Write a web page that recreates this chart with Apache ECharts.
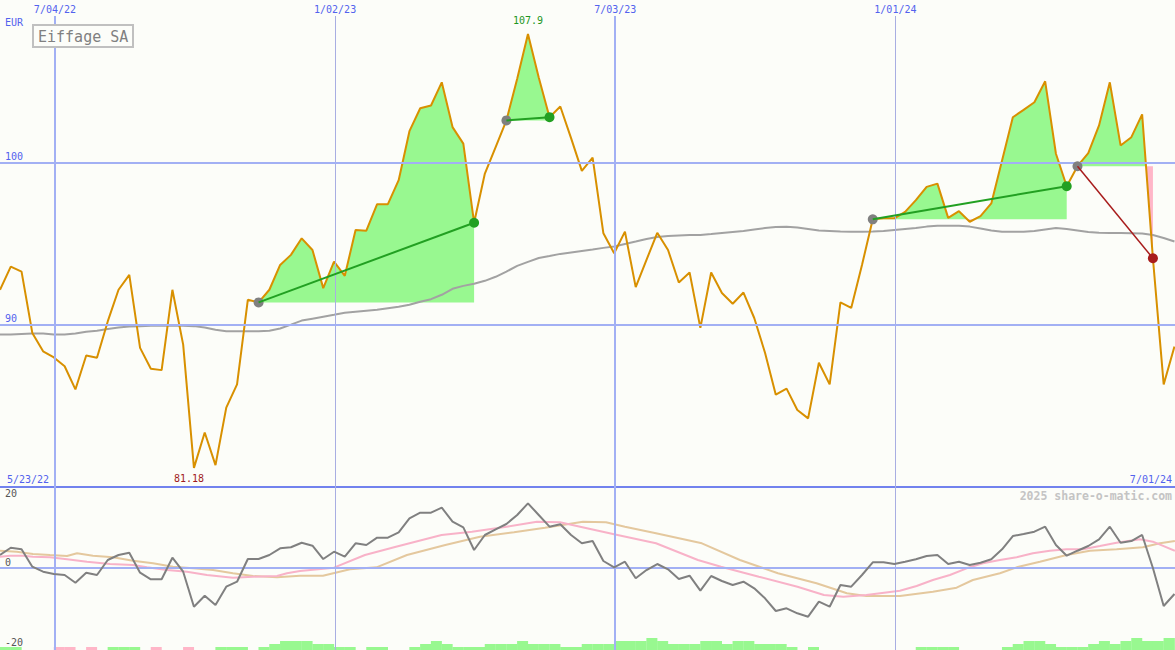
<!DOCTYPE html>
<html><head><meta charset="utf-8">
<script src="https://cdn.jsdelivr.net/npm/echarts@6/dist/echarts.min.js"></script>
<style>html,body{margin:0;padding:0;background:#fcfdf9;}#c{width:1175px;height:650px;}</style>
</head><body><div id="c"></div>
<script>
// ---------- data (weekly, index 0 = first week on the chart) ----------
const chartTitle = 'Eiffage SA';
const currency = 'EUR';
const startDate = '5/23/22';
const endDate = '7/01/24';
const watermark = '2025 share-o-matic.com';
const dateTicks = ['7/04/22', '1/02/23', '7/03/23', '1/01/24'];
const dateTickWeek = [5.1, 31.1, 57.1, 83.1];
const priceTicks = [90, 100];
const oscTicks = [20, 0, -20];

const price = [92.15,93.58,93.27,89.49,88.36,87.98,87.44,86.01,88.10,87.96,
 90.20,92.15,93.07,88.57,87.28,87.20,92.15,88.77,81.18,83.36,
 81.35,84.89,86.32,91.53,91.37,92.15,93.68,94.30,95.32,94.60,
 92.25,93.88,93.01,95.83,95.79,97.42,97.42,98.90,101.92,103.33,
 103.50,104.93,102.17,101.15,96.28,99.31,100.94,102.58,105.15,107.9,
 105.22,102.78,103.44,101.49,99.47,100.29,95.63,94.40,95.73,92.31,
 93.99,95.66,94.60,92.60,93.21,89.80,93.21,91.95,91.29,91.98,
 90.41,88.27,85.69,86.06,84.74,84.23,87.65,86.32,91.37,91.03,
 93.68,96.49,96.55,96.55,96.95,97.67,98.49,98.69,96.58,96.99,
 96.34,96.69,97.47,100.12,102.78,103.23,103.70,104.99,100.53,98.53,
 99.76,100.57,102.27,104.93,101.04,101.55,102.95,94.09,86.32,88.65];

const movingAvg = [89.39,89.39,89.42,89.45,89.45,89.39,89.39,89.45,89.57,89.63,
 89.73,89.82,89.88,89.91,89.94,89.94,89.94,89.94,89.91,89.82,
 89.69,89.60,89.60,89.60,89.60,89.63,89.76,90.00,90.25,90.37,
 90.49,90.61,90.74,90.80,90.86,90.92,91.01,91.10,91.23,91.41,
 91.57,91.84,92.21,92.39,92.52,92.70,92.95,93.27,93.62,93.87,
 94.11,94.23,94.36,94.45,94.54,94.63,94.73,94.82,94.97,95.12,
 95.28,95.40,95.46,95.49,95.52,95.52,95.58,95.65,95.71,95.77,
 95.86,95.95,96.01,96.03,95.98,95.89,95.80,95.77,95.74,95.72,
 95.72,95.74,95.77,95.83,95.89,95.95,96.04,96.09,96.09,96.09,
 96.04,95.92,95.80,95.72,95.72,95.72,95.77,95.86,95.95,95.89,
 95.80,95.71,95.66,95.65,95.65,95.63,95.61,95.52,95.34,95.12];

const momentum = [3.80,5.94,5.47,0.38,-1.08,-1.76,-2.05,-4.30,-1.38,-2.05,
 2.34,3.80,4.48,-1.38,-3.31,-3.31,3.01,-1.08,-11.33,-8.11,
 -10.83,-5.47,-4.01,2.63,2.63,3.80,5.77,6.06,7.40,6.53,
 2.63,4.77,3.31,7.23,6.73,8.87,8.87,10.45,14.54,16.18,
 16.18,17.65,13.55,11.91,5.27,9.66,11.33,12.88,15.51,18.93,
 15.51,12.09,12.79,9.66,7.23,7.90,2.05,0.20,1.84,-3.01,
 -0.59,1.17,-0.38,-3.22,-2.25,-6.64,-2.34,-3.80,-4.98,-4.01,
 -5.94,-8.87,-12.58,-11.79,-13.26,-14.25,-9.86,-11.33,-4.98,-5.47,
 -2.05,1.67,1.67,1.17,1.84,2.55,3.51,3.80,1.17,1.84,
 0.88,1.55,2.55,5.47,9.36,9.95,10.62,12.09,6.73,3.60,
 5.06,6.44,8.40,12.09,7.40,7.90,9.66,0.00,-11.12,-7.61];

// smooth averages, sampled [week, value]
const pinkAvg = [[0,3.31],[0.93,3.60],[2.13,3.60],[3.06,3.31],[4.64,3.13],[6.22,2.55],[8.07,1.84],
 [10.21,1.17],[12.34,0.88],[13.64,0.20],[15.50,-0.59],[17.35,-1.08],[19.21,-2.05],[21.62,-2.84],
 [23.48,-2.55],[25.71,-2.34],[26.63,-1.55],[27.84,-0.88],[31.0,0.09],[33.87,3.80],[36.75,6.23],
 [40.98,9.66],[43.80,10.62],[47.02,12.09],[49.83,13.55],[51.97,13.37],[54.47,11.62],[57.31,9.66],
 [60.88,7.23],[64.77,2.34],[66.91,0.38],[70.43,-2.55],[74.01,-5.47],[76.47,-7.90],[78.27,-8.40],
 [80.40,-7.90],[83.52,-6.64],[85.07,-5.27],[86.58,-3.51],[88.16,-2.05],[89.71,-0.09],[91.22,1.38],
 [92.80,2.34],[94.35,3.13],[95.86,4.30],[97.44,5.06],[98.99,5.47],[100.50,5.47],[102.08,6.44],
 [103.63,7.40],[105.79,8.40],[107.0,7.70],[109.04,5.06]];
const tanAvg = [[0,5.06],[1.55,4.77],[3.06,4.10],[4.64,3.80],[6.22,3.51],[7.15,4.30],[8.63,3.60],
 [10.49,3.13],[12.34,2.14],[14.20,1.38],[16.05,0.38],[17.91,-0.09],[19.77,-0.59],[21.62,-1.55],
 [23.48,-2.34],[25.71,-2.72],[27.84,-2.25],[29.97,-2.25],[32.48,-0.38],[34.94,0.20],[37.77,3.80],
 [41.33,6.73],[44.54,9.16],[47.70,10.45],[50.58,11.79],[54.10,13.55],[56.24,13.37],[58.0,12.09],
 [60.88,10.16],[65.14,7.23],[68.67,2.34],[72.20,-1.55],[75.78,-4.48],[78.60,-7.40],[80.40,-8.19],
 [82.50,-8.19],[83.52,-8.19],[86.58,-6.94],[88.78,-5.77],[90.29,-3.51],[92.80,-1.55],[94.35,0.20],
 [96.51,1.84],[98.99,3.80],[101.15,5.06],[103.63,5.47],[106.07,6.06],[107.65,7.23],[109.04,7.90]];

// weekly flow bars: sign = colour, size = level
const flowBars = [1,1,0,0,0,-1,-1,0,-1,0,
 1,1,1,0,-1,0,0,-1,0,0,
 1,1,1,0,1,2,3,3,3,2,
 2,1,1,0,1,1,0,0,1,2,
 3,2,1,1,1,2,2,2,3,2,
 2,2,1,1,2,2,2,3,3,3,
 4,3,2,2,2,3,3,2,3,3,
 2,2,2,1,0,1,0,0,0,0,
 0,0,0,0,0,1,1,1,1,0,
 0,0,0,1,2,3,3,2,1,1,
 1,2,3,2,3,4,3,3,4,4];

// trade signals (week index of entry / exit)
const signalStart = [24, 47, 81, 100];
const signalEnd = [44, 51, 99, 107];

// ---------- styles ----------
const MONO = 'DejaVu Sans Mono';
const BLUE = '#5262ee';
const GRIDC = '#a2b0f4';
const FILL_G = '#98f890';
const FILL_P = '#ffb6c8';
const WIN = '#22a022', LOSS = '#a81c1c';

function renderFill(params, api) {
  const i = params.dataIndex;
  const s = signalStart[i], e = signalEnd[i], b = price[s];
  const runs = [];
  let cur = [[s, b]];
  for (let k = s; k <= e; k++) {
    if (k > s) {
      const d0 = price[k - 1] - b, d1 = price[k] - b;
      if (d0 * d1 < 0) {
        const xc = k - 1 + d0 / (d0 - d1);
        cur.push([xc, b]);
        runs.push(cur);
        cur = [[xc, b]];
      }
    }
    cur.push([k, price[k]]);
  }
  cur.push([e, b]);
  runs.push(cur);
  return {
    type: 'group',
    children: runs.map(r => {
      const sum = r.reduce((a, p) => a + (p[1] - b), 0);
      return {
        type: 'polygon',
        shape: { points: r.map(p => api.coord(p)) },
        style: { fill: sum >= 0 ? FILL_G : FILL_P, stroke: null, lineWidth: 0 }
      };
    })
  };
}

const win = signalStart.map((s, i) => price[signalEnd[i]] >= price[s]);
const txt = (size, color, extra) => Object.assign({ fontFamily: MONO, fontSize: size, color: color, fontWeight: 'normal', lineHeight: 12 }, extra || {});

const chart = echarts.init(document.getElementById('c'), null, { renderer: 'svg', width: 1175, height: 650 });
const XMAX = 109.05;

const option = {
  animation: false,
  backgroundColor: '#fcfdf9',
  title: [
    { text: chartTitle, left: 33, top: 25, padding: [3, 5, 2, 5], borderColor: '#c0c0c0', borderWidth: 2,
      backgroundColor: '#fcfdf9', textStyle: txt(15, '#808080', { lineHeight: 17 }), z: 20 },
    { text: currency, left: 5, top: 16, padding: 0, textStyle: txt(10, BLUE) },
    { text: startDate, left: 7, top: 473, padding: 0, textStyle: txt(10, BLUE) },
    { text: endDate, right: 3, top: 473, padding: 0, textStyle: txt(10, BLUE) },
    { text: watermark, right: 3, top: 490, padding: 0, textStyle: txt(11.5, '#c4c4c4', { fontWeight: 'bold' }) }
  ],
  grid: [
    { left: 0, right: 0, top: 0, height: 487 },
    { left: 0, right: 0, top: 486, height: 164 },
    { left: 0, right: 0, top: 16, bottom: 0 }
  ],
  xAxis: [
    { gridIndex: 0, type: 'value', min: 0, max: XMAX, axisLabel: { show: false }, axisTick: { show: false },
      splitLine: { show: false }, axisLine: { show: true, onZero: false, lineStyle: { color: '#7282ee', width: 2 } } },
    { gridIndex: 1, type: 'value', min: 0, max: XMAX, show: false },
    { gridIndex: 2, type: 'value', min: 0, max: XMAX, show: false }
  ],
  yAxis: [
    { gridIndex: 0, type: 'value', position: 'left', min: 80, max: 110, interval: 10, axisLine: { show: false }, axisTick: { show: false },
      splitLine: { show: false },
      axisLabel: Object.assign({ inside: true, margin: 5, verticalAlign: 'bottom',
        formatter: v => priceTicks.indexOf(v) >= 0 ? String(v) : '' }, txt(10, BLUE)) },
    { gridIndex: 1, type: 'value', position: 'left', min: -24, max: 24, interval: 4, axisLine: { show: false }, axisTick: { show: false },
      splitLine: { show: false },
      axisLabel: Object.assign({ inside: true, margin: 5, verticalAlign: 'bottom',
        formatter: v => (oscTicks.indexOf(v) >= 0 && v >= 0) ? String(v) : '' }, txt(10, '#555555')) },
    { gridIndex: 1, type: 'value', position: 'left', offset: 0, min: -24, max: 24, interval: 4, axisLine: { show: false }, axisTick: { show: false },
      splitLine: { show: false },
      axisLabel: Object.assign({ inside: true, margin: 5, verticalAlign: 'top',
        formatter: v => (oscTicks.indexOf(v) >= 0 && v < 0) ? String(v) : '' }, txt(10, '#555555')) },
    { gridIndex: 1, type: 'value', min: 0, max: 164 / 3, show: false },
    { gridIndex: 2, type: 'value', min: 0, max: 1, show: false }
  ],
  series: [
    // vertical date lines across both panels
    { type: 'line', xAxisIndex: 2, yAxisIndex: 4, z: 2, data: [[0, 0]], symbol: 'none', lineStyle: { opacity: 0 }, silent: true,
      markLine: { silent: true, symbol: ['none', 'none'],
        data: dateTickWeek.map((w, i) => ({
          xAxis: w,
          lineStyle: { type: 'solid', width: i % 2 === 0 ? 2 : 1, color: i % 2 === 0 ? GRIDC : '#a8aee2' },
          label: Object.assign({ show: true, position: 'end', distance: 1, formatter: dateTicks[i] }, txt(10, BLUE))
        })) } },
    // filled trade areas
    { type: 'custom', xAxisIndex: 0, yAxisIndex: 0, z: 1, silent: true, renderItem: renderFill,
      data: signalStart.map((s, i) => [s, price[s], signalEnd[i]]), encode: { x: [0, 2], y: 1 } },
    // horizontal price grid lines
    { type: 'line', xAxisIndex: 0, yAxisIndex: 0, z: 2, data: [[0, 80]], symbol: 'none', lineStyle: { opacity: 0 }, silent: true,
      markLine: { silent: true, symbol: ['none', 'none'], label: { show: false },
        lineStyle: { type: 'solid', width: 2, color: GRIDC }, data: priceTicks.map(v => ({ yAxis: v })) } },
    // moving average
    { type: 'line', xAxisIndex: 0, yAxisIndex: 0, z: 3, symbol: 'none', silent: true,
      data: movingAvg.map((v, i) => [i, v]), lineStyle: { color: '#a2a2a2', width: 2 } },
    // price
    { type: 'line', xAxisIndex: 0, yAxisIndex: 0, z: 4, symbol: 'none', silent: true,
      data: price.map((v, i) => [i, v]), lineStyle: { color: '#d89000', width: 2 },
      markPoint: { symbol: 'circle', symbolSize: 1, itemStyle: { color: 'rgba(0,0,0,0)' }, silent: true,
        data: [
          { type: 'max', label: Object.assign({ show: true, position: 'top', distance: 7, formatter: '{c}' }, txt(10, '#1e961e')) },
          { type: 'min', label: Object.assign({ show: true, position: 'bottom', distance: 4, offset: [-5, 0], formatter: '{c}' }, txt(10, '#a01c1c')) }
        ] } },
    // entry dots
    { type: 'scatter', xAxisIndex: 0, yAxisIndex: 0, z: 5, symbolSize: 10, silent: true,
      itemStyle: { color: '#808080', opacity: 1 }, data: signalStart.map(s => [s, price[s]]) },
    // trend lines
    ...signalStart.map((s, i) => ({
      type: 'line', xAxisIndex: 0, yAxisIndex: 0, z: 6, symbol: 'none', silent: true,
      data: [[s, price[s]], [signalEnd[i], price[signalEnd[i]]]],
      lineStyle: { color: win[i] ? WIN : LOSS, width: win[i] ? 2 : 1.5 }
    })),
    // exit dots
    { type: 'scatter', xAxisIndex: 0, yAxisIndex: 0, z: 7, symbolSize: 10, silent: true,
      data: signalEnd.map((e, i) => ({ value: [e, price[e]], itemStyle: { color: win[i] ? WIN : LOSS, opacity: 1 } })) },

    // ---- lower panel ----
    { type: 'line', xAxisIndex: 1, yAxisIndex: 1, z: 2, data: [[0, 0]], symbol: 'none', lineStyle: { opacity: 0 }, silent: true,
      markLine: { silent: true, symbol: ['none', 'none'], label: { show: false },
        lineStyle: { type: 'solid', width: 2, color: GRIDC }, data: [{ yAxis: 0 }] } },
    { type: 'bar', xAxisIndex: 1, yAxisIndex: 3, z: 3, barWidth: 11, silent: true,
      data: flowBars.map((v, i) => ({ value: [i + 0.5, Math.abs(v)], itemStyle: { color: v >= 0 ? FILL_G : FILL_P } })) },
    { type: 'line', xAxisIndex: 1, yAxisIndex: 1, z: 4, symbol: 'none', silent: true,
      data: tanAvg, lineStyle: { color: '#e4c89e', width: 2 } },
    { type: 'line', xAxisIndex: 1, yAxisIndex: 1, z: 4, symbol: 'none', silent: true,
      data: pinkAvg, lineStyle: { color: '#f8b2c8', width: 2 } },
    { type: 'line', xAxisIndex: 1, yAxisIndex: 1, z: 5, symbol: 'none', silent: true,
      data: momentum.map((v, i) => [i, v]), lineStyle: { color: '#808080', width: 2 } }
  ]
};
chart.setOption(option);
</script></body></html>
